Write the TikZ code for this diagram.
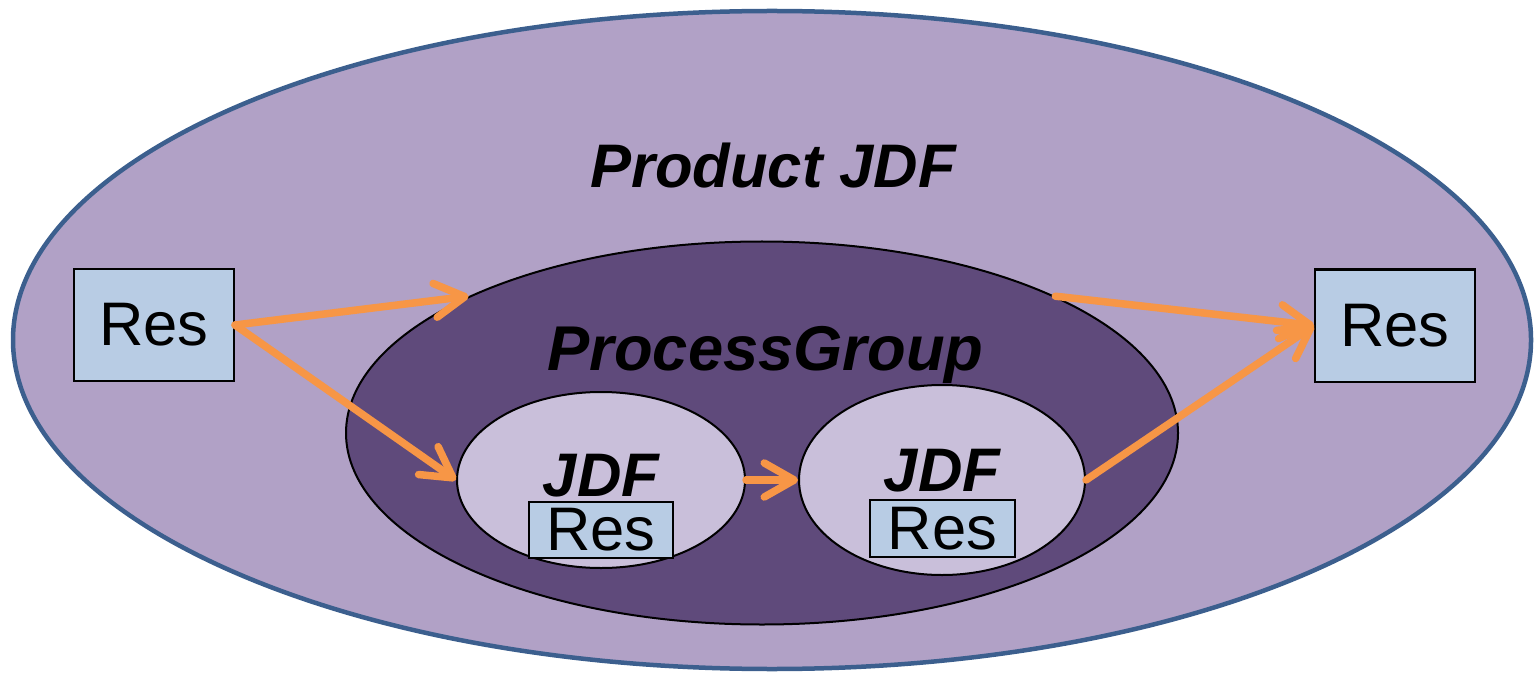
\documentclass[tikz,border=0pt]{standalone}
\usepackage{fontspec}
\setmainfont{Liberation Sans}
\usetikzlibrary{shapes}
\usetikzlibrary{arrows.meta}
\usetikzlibrary{positioning}

\definecolor{prodfill}{RGB}{177,161,198}
\definecolor{prodline}{RGB}{60,95,142}
\definecolor{groupfill}{RGB}{95,74,123}
\definecolor{jdffill}{RGB}{201,191,218}
\definecolor{resfill}{RGB}{184,204,228}
\definecolor{flow}{RGB}{247,150,70}

\tikzset{
  resbox/.style={draw=black, line width=0.02cm, fill=resfill, inner sep=0pt,
    font=\fontsize{17.5}{20}\selectfont},
  jdfnode/.style={ellipse, draw=black, line width=0.02cm, fill=jdffill, inner sep=0pt},
  bigtitle/.style={font=\fontsize{17.5}{20}\selectfont\bfseries\itshape,
    anchor=base, inner sep=0pt},
  flowarrow/.style={draw=flow, line width=0.075cm, line cap=round,
    -{Straight Barb[round, length=0.3cm, width=0.34cm]}}
}

\begin{document}
\begin{tikzpicture}
  \useasboundingbox (0,0) rectangle (15.34,-6.76);

  % outer product
  \node[ellipse, draw=prodline, line width=0.045cm, fill=prodfill, inner sep=0pt,
    minimum width=15.18cm, minimum height=6.58cm] (prod) at (7.72,-3.40) {};
  \node[bigtitle] (prodlabel) at (7.73,-1.88) {Product JDF};

  % process group
  \node[ellipse, draw=black, line width=0.02cm, fill=groupfill, inner sep=0pt,
    minimum width=8.32cm, minimum height=3.83cm] (pg) at (7.62,-4.33) {};
  \node[bigtitle, font=\fontsize{18}{21}\selectfont\bfseries\itshape] (pglabel)
    at (7.655,-3.70) {ProcessGroup};

  % the two JDF nodes
  \node[jdfnode, minimum width=2.88cm, minimum height=1.76cm] (jdfa) at (6.01,-4.80) {};
  \node[jdfnode, minimum width=2.86cm, minimum height=1.90cm] (jdfb) at (9.42,-4.80) {};
  \node[bigtitle] (jdfalabel) at (6.01,-4.96) {JDF};
  \node[bigtitle] (jdfblabel) at (9.42,-4.91) {JDF};
  \node[resbox, minimum width=1.44cm, minimum height=0.56cm] (resa) at (6.01,-5.30) {Res};
  \node[resbox, minimum width=1.45cm, minimum height=0.57cm] (resb) at (9.425,-5.285) {Res};

  % outside resources
  \node[resbox, minimum width=1.60cm, minimum height=1.12cm] (resin) at (1.54,-3.25) {Res};
  \node[resbox, minimum width=1.60cm, minimum height=1.12cm] (resout) at (13.95,-3.255) {Res};

  % flows
  \draw[flowarrow] (resin.east) -- (pg.155);
  \draw[flowarrow] (resin.east) -- (jdfa.west);
  \draw[flowarrow] (jdfa.east) -- (jdfb.west);
  \draw[flowarrow] (pg.25) -- (resout.west);
  \draw[flowarrow] (jdfb.east) -- (resout.west);
\end{tikzpicture}
\end{document}
